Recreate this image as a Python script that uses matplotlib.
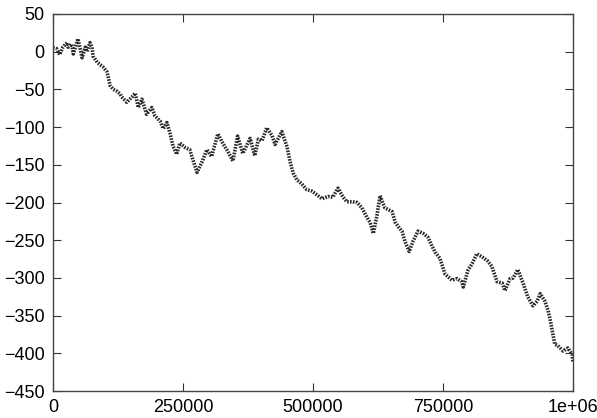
import matplotlib
matplotlib.use("Agg")
import matplotlib.pyplot as plt

# walk position (x in thousands of steps)
steps_k = [0, 7, 13, 19, 27, 29, 36, 39, 48, 56, 62, 65, 71, 75, 77, 85, 90, 96,
           104, 110, 116, 122, 129, 132, 142, 152, 158, 164, 171, 180, 190, 196,
           206, 212, 219, 225, 231, 238, 244, 254, 263, 267, 277, 286, 296, 305,
           317, 327, 336, 346, 355, 365, 379, 388, 395, 402, 411, 421, 427, 440,
           450, 456, 462, 469, 478, 488, 498, 508, 517, 529, 538, 548, 558, 565,
           575, 585, 594, 604, 610, 616, 623, 629, 638, 652, 658, 664, 671, 677,
           685, 692, 702, 712, 721, 729, 735, 744, 754, 767, 777, 786, 789, 798,
           806, 815, 825, 835, 844, 854, 864, 869, 879, 885, 894, 904, 913, 923,
           931, 937, 946, 952, 956, 960, 965, 971, 981, 990, 998, 1000]
position = [5, 4, -4, 6, 12, 6, 10, -3, 17, -8, 6, 0, 12, 6, -6, -14, -17, -20,
            -27, -45, -50, -52, -56, -60, -67, -60, -55, -74, -63, -83, -74, -85,
            -92, -102, -94, -108, -126, -136, -121, -127, -130, -139, -160, -147,
            -130, -139, -109, -122, -132, -145, -112, -135, -115, -138, -116, -118,
            -101, -111, -123, -106, -126, -146, -161, -170, -175, -183, -185, -190,
            -195, -192, -193, -181, -193, -199, -199, -200, -207, -220, -227, -241,
            -217, -191, -207, -212, -226, -232, -238, -252, -265, -252, -238, -241,
            -246, -258, -266, -274, -295, -303, -301, -305, -312, -290, -281, -268,
            -272, -277, -285, -305, -307, -317, -301, -300, -289, -307, -325, -337,
            -331, -321, -331, -343, -355, -370, -388, -390, -397, -393, -401, -412]

x_ticks = [0, 250000, 500000, 750000, 1000000]
x_labels = ["0", "250000", "500000", "750000", "1e+06"]
y_ticks = list(range(-450, 51, 50))

plt.rcParams['font.family'] = ['Liberation Sans', 'DejaVu Sans']

fig = plt.figure(figsize=(5.97, 4.18), dpi=100)
ax = fig.add_axes([53/597, 1 - 391/418, 520/597, 377/418])

xs = [k * 1000 for k in steps_k]
ax.plot(xs, position, color="#111111", lw=2.6, ls=(0, (0.45, 0.35)), alpha=0.9)

ax.set_xlim(0, 1000000)
ax.set_ylim(-450, 50)
ax.set_xticks(x_ticks)
ax.set_xticklabels(x_labels)
ax.set_yticks(y_ticks)
ax.tick_params(direction="in", length=6, width=0.8, color="#333333",
               top=True, right=True, labelsize=13, pad=6)
for s in ax.spines.values():
    s.set_color("#444444")
    s.set_linewidth(1.0)

fig.savefig("out.png", dpi=100)
